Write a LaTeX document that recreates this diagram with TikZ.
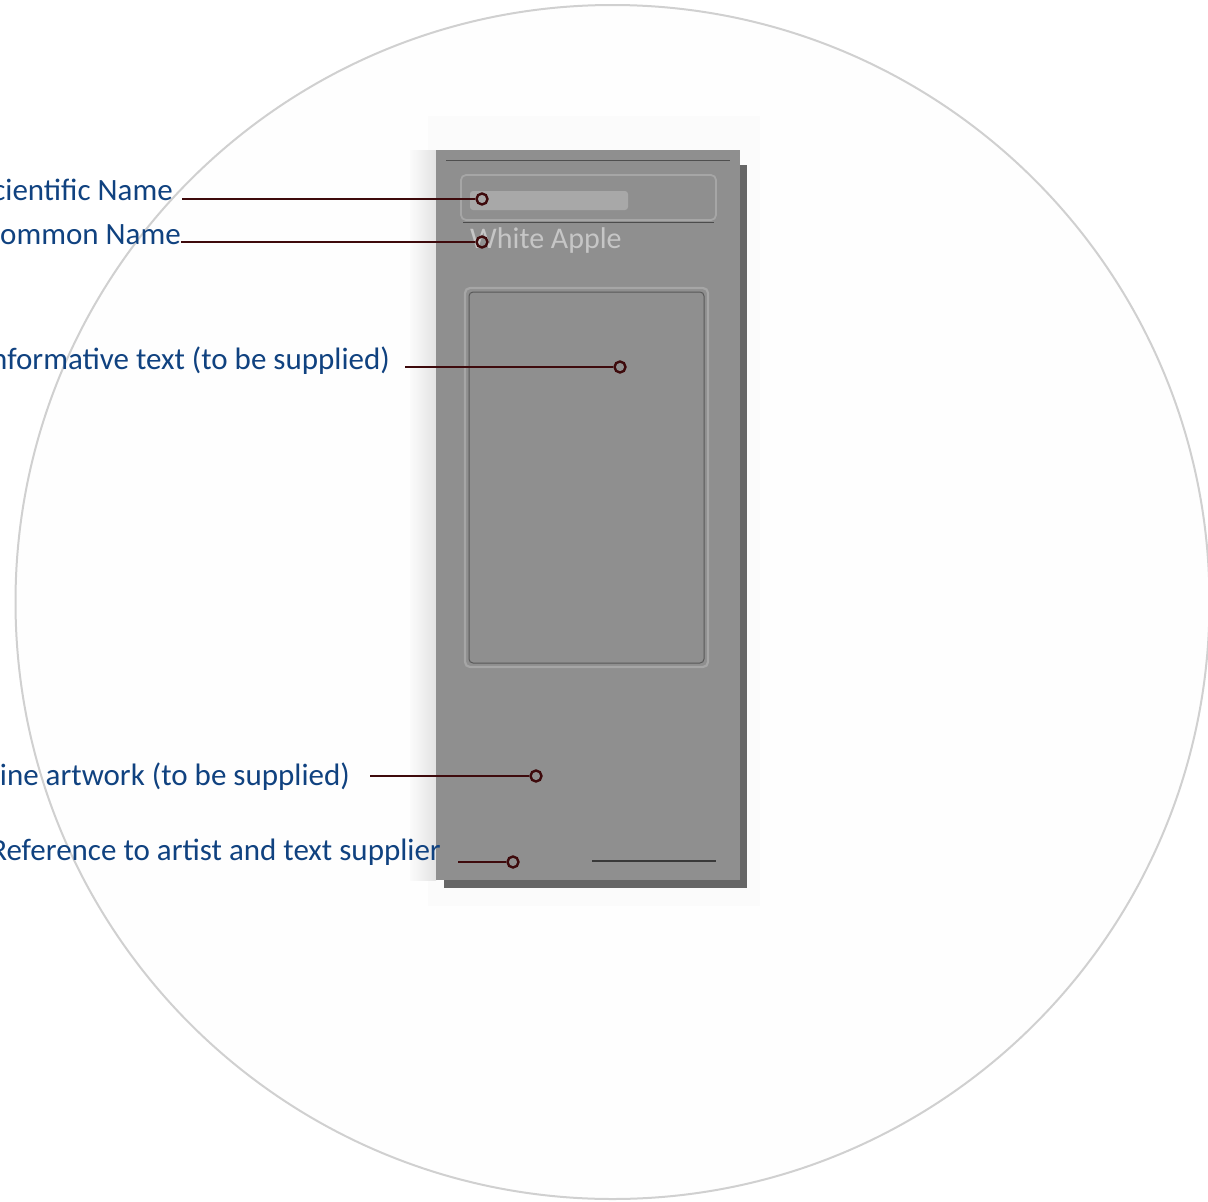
\documentclass[tikz,border=0pt]{standalone}
\usepackage{fontspec}
\setmainfont{Carlito}
\usepackage{xcolor}
\usepackage{tikz}
\usetikzlibrary{positioning, arrows.meta, shapes.geometric}

\definecolor{labelblue}{RGB}{16,66,128}
\definecolor{leadred}{RGB}{62,10,12}
\definecolor{panelgray}{RGB}{143,143,143}
\definecolor{shadowgray}{RGB}{102,102,102}
\definecolor{ringgray}{RGB}{208,208,208}

\begin{document}
\begin{tikzpicture}[x=1pt, y=-1pt]
    \tikzstyle{label} = [text=labelblue, font=\fontsize{31}{37}\selectfont, inner sep=0pt, anchor=base east]
    \tikzstyle{pin} = [draw=leadred, circle, line width=2.4pt, minimum size=11pt, inner sep=0pt]
    \tikzstyle{lead} = [draw=leadred, line width=2.8pt]
    \tikzstyle{frame} = [draw=gray!70!white, line width=1.8pt, rounded corners=5pt]

    \useasboundingbox (0,0) rectangle (1208,1202);
    \clip (0,0) rectangle (1208,1202);

    % Cerchio di sfondo
    \draw[ringgray, line width=2pt, fill=gray!1] (612.5,602) circle [radius=597];

    % Scheda (ombra, alone e corpo)
    \fill[gray!3] (428,116) rectangle (760,906);
    \shade[left color=gray!3, right color=gray!22] (410,150) rectangle (436,880);
    \fill[shadowgray] (444,165) rectangle (747,888);
    \fill[panelgray] (436,150) rectangle (740,880);
    \draw[gray!62!black, line width=0.8pt] (446,160) -- (730,160);

    % Campo nome scientifico e nome comune
    \draw[frame] (461,175) rectangle (716,220);
    \draw[gray!60!black, line width=1pt] (463,222) -- (714,222);
    \fill[gray!55, opacity=0.6, rounded corners=3pt] (470,191) rectangle (628,210);
    \node[text=gray!45, font=\fontsize{30}{36}\selectfont, inner sep=0pt, anchor=base west] (common) at (470,248) {White Apple};

    % Riquadro testo
    \draw[frame, line width=2.2pt] (465,288) rectangle (708,667);
    \draw[gray!70!black, line width=1pt, rounded corners=4pt] (469,292) rectangle (704,663);

    % Riga firma
    \draw[gray!45!black, line width=2pt] (592,861) -- (716,861);

    % Etichette
    \node[label] (sci) at (173,200) {Scientific Name};
    \node[label] (com) at (181,244) {Common Name};
    \node[label] (info) at (390,369) {Informative text (to be supplied)};
    \node[label] (art) at (350,785) {Line artwork (to be supplied)};
    \node[label] (ref) at (441,860) {Reference to artist and text supplier};

    % Linee di richiamo
    \coordinate (s1) at (182,199);
    \coordinate (s2) at (181,242);
    \coordinate (s3) at (405,367);
    \coordinate (s4) at (370,776);
    \coordinate (s5) at (458,862);
    \node[pin] (p1) at (482,199) {};
    \node[pin] (p2) at (482,242) {};
    \node[pin] (p3) at (620,367) {};
    \node[pin] (p4) at (536,776) {};
    \node[pin] (p5) at (513,862) {};
    \draw[lead] (s1) -- (p1);
    \draw[lead] (s2) -- (p2);
    \draw[lead] (s3) -- (p3);
    \draw[lead] (s4) -- (p4);
    \draw[lead] (s5) -- (p5);
\end{tikzpicture}
\end{document}
